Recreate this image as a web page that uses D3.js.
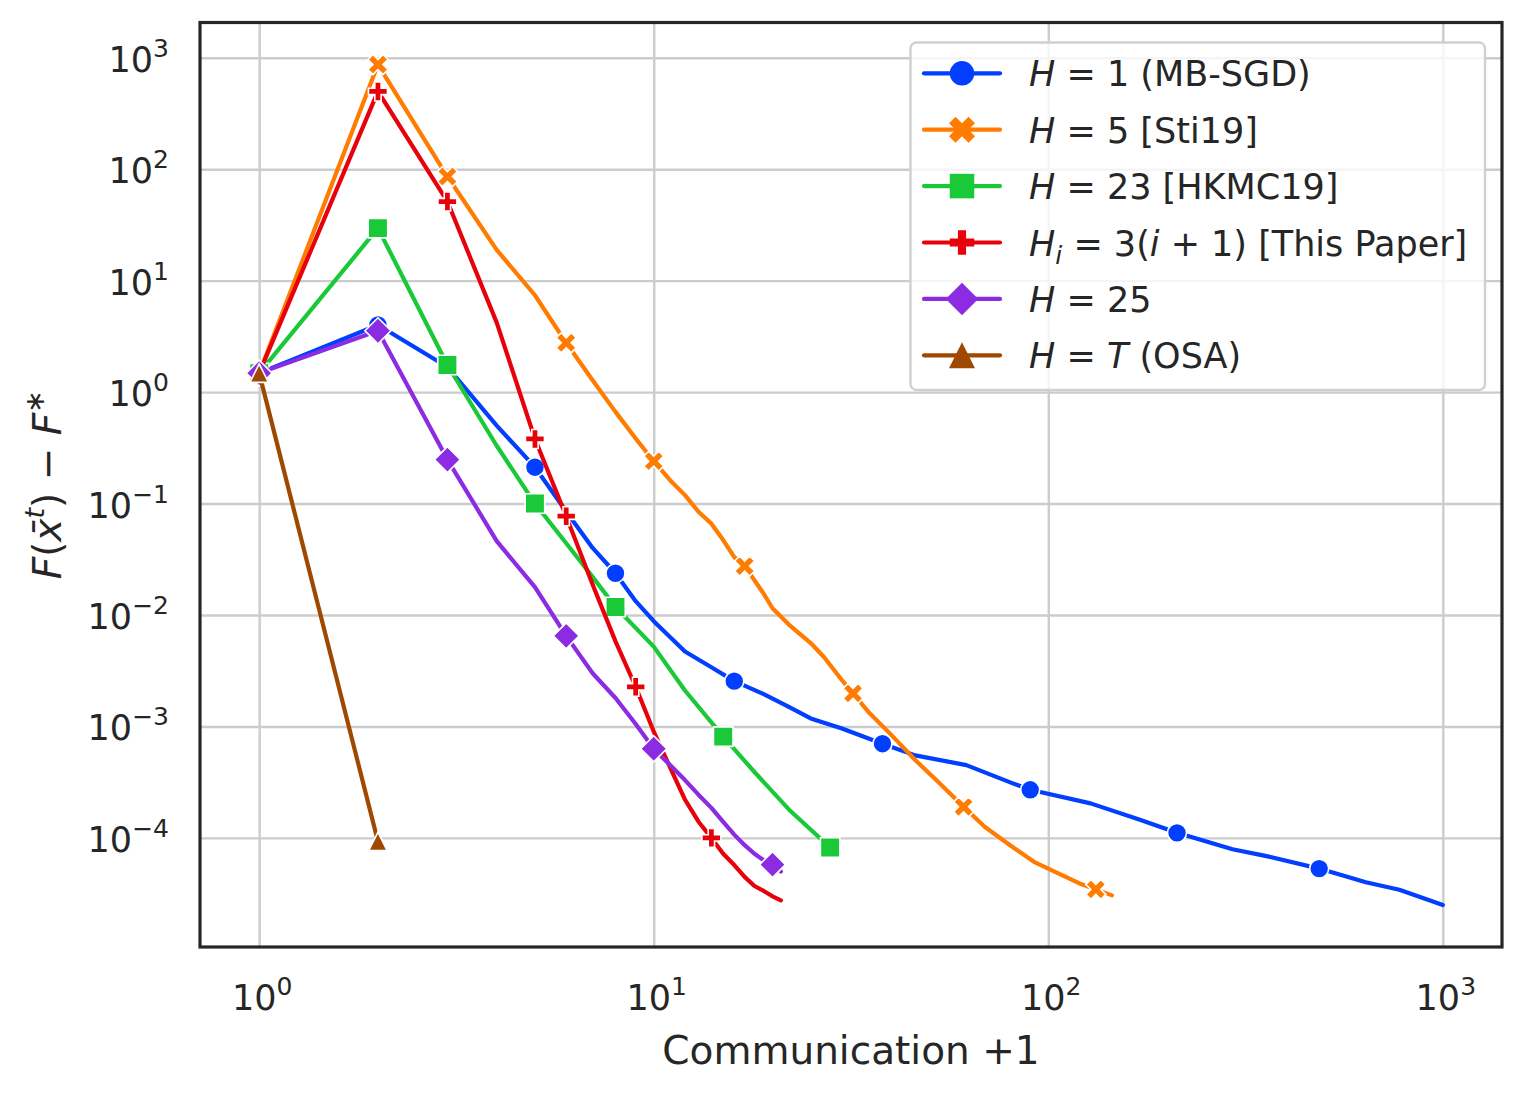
<!DOCTYPE html>
<html>
<head>
<meta charset="utf-8">
<script src="https://cdn.jsdelivr.net/npm/d3@7"></script>
<style>
  body { margin: 0; background: #fff; }
  text { font-family: "DejaVu Sans", sans-serif; fill: #262626; }
</style>
</head>
<body>
<div id="chart"></div>
<script>
// ---- data ----
const mbX = [1, 2, 3, 4, 5, 6, 7, 8, 9, 10, 12, 14, 16, 19, 22, 25, 30, 38, 46, 62, 81, 90, 128, 170, 212, 293, 355, 486, 638, 776, 1000];
const mbY = [1.48, 4.0, 1.68, 0.5, 0.212, 0.085, 0.04, 0.0237, 0.0133, 0.0088, 0.0047, 0.0034, 0.00255, 0.00195, 0.0015, 0.00118, 0.00096,
             7.0e-4, 5.5e-4, 4.5e-4, 3.1e-4, 2.7e-4, 2.04e-4, 1.46e-4, 1.11e-4, 7.9e-5, 6.9e-5, 5.3e-5, 4.0e-5, 3.42e-5, 2.5e-5];
const mbMarks = [1, 2, 5, 8, 16, 38, 90, 212, 486];

const stiX = [1, 2, 3, 4, 5, 6, 7, 8, 9, 10, 11, 12, 13, 14, 15, 16, 17, 18, 19, 20, 22, 25, 27, 30, 32, 35, 40, 46, 52, 61, 69, 80, 92, 106, 120, 132, 145];
const stiY = [1.48, 870, 86, 18.9, 7.4, 2.77, 1.28, 0.665, 0.384, 0.24, 0.162, 0.119, 0.084, 0.066, 0.047, 0.033, 0.0275, 0.0205, 0.0155, 0.0115,
              0.0082, 0.0056, 0.0042, 0.0026, 0.00198, 0.00135, 8.4e-4, 5.0e-4, 3.3e-4, 1.9e-4, 1.26e-4, 8.6e-5, 6.1e-5, 4.8e-5, 3.9e-5, 3.45e-5, 3.05e-5];
const stiMarks = [1, 2, 3, 6, 10, 17, 32, 61, 132];

const hkX = [1, 2, 3, 4, 5, 6, 7, 8, 10, 12, 15, 18, 22, 28];
const hkY = [1.48, 29.6, 1.75, 0.33, 0.1, 0.044, 0.022, 0.0118, 0.0052, 0.0021, 8.1e-4, 3.9e-4, 1.8e-4, 8.2e-5];
const hkMarks = [1, 2, 3, 5, 8, 15, 28];

const ourX = [1, 2, 3, 4, 5, 6, 7, 8, 9, 10, 11, 12, 13, 14, 15, 16, 17, 18, 19, 20, 21];
const ourY = [1.48, 499, 51.3, 4.2, 0.38, 0.077, 0.0188, 0.0058, 0.00227, 9.0e-4, 4.3e-4, 2.2e-4, 1.39e-4, 1.0e-4, 7.2e-5, 5.7e-5,
              4.47e-5, 3.7e-5, 3.34e-5, 2.99e-5, 2.75e-5];
const ourMarks = [1, 2, 3, 5, 6, 9, 14];

const h25X = [1, 2, 3, 4, 5, 6, 7, 8, 9, 10, 11, 12, 13, 14, 15, 16, 17, 18, 19, 20, 21];
const h25Y = [1.48, 3.55, 0.248, 0.046, 0.0178, 0.0065, 0.003, 1.8e-3, 1.05e-3, 6.3e-4, 4.5e-4, 3.3e-4, 2.43e-4, 1.86e-4, 1.39e-4, 1.07e-4,
              8.6e-5, 7.2e-5, 6.3e-5, 5.75e-5, 5.0e-5];
const h25Marks = [1, 2, 3, 6, 10, 20];

const osaX = [1, 2];
const osaY = [1.48, 9.3e-5];
const osaMarks = [1, 2];

const colors = ["#023eff", "#ff7c00", "#1ac938", "#e8000b", "#8b2be2", "#9f4800"];
const markerTypes = ["circle", "x", "square", "plus", "diamond", "triangle"];
const legendLabels = [
  [{t: "H", i: 1}, {t: " = 1 (MB-SGD)"}],
  [{t: "H", i: 1}, {t: " = 5 [Sti19]"}],
  [{t: "H", i: 1}, {t: " = 23 [HKMC19]"}],
  [{t: "H", i: 1}, {t: "i", i: 1, sub: 1}, {t: " = 3("}, {t: "i", i: 1}, {t: " + 1) [This Paper]"}],
  [{t: "H", i: 1}, {t: " = 25"}],
  [{t: "H", i: 1}, {t: " = "}, {t: "T", i: 1}, {t: " (OSA)"}]
];
const xTickExp = [0, 1, 2, 3];
const yTickExp = [-4, -3, -2, -1, 0, 1, 2, 3];

const series = [
  {x: mbX, y: mbY, marks: mbMarks},
  {x: stiX, y: stiY, marks: stiMarks},
  {x: hkX, y: hkY, marks: hkMarks},
  {x: ourX, y: ourY, marks: ourMarks},
  {x: h25X, y: h25Y, marks: h25Marks},
  {x: osaX, y: osaY, marks: osaMarks}
].map((s, k) => ({
  points: s.x.map((v, j) => ({x: v, y: s.y[j]})),
  marks: s.marks.map(m => ({x: m, y: s.y[s.x.indexOf(m)]})),
  color: colors[k],
  marker: markerTypes[k],
  label: legendLabels[k]
}));

// ---- layout ----
const W = 1526, H = 1095;
const pL = 200, pR = 1502, pT = 22.5, pB = 947;

// matplotlib-like 5% margins in log space
function padLog(lo, hi) {
  const a = Math.log10(lo), b = Math.log10(hi), p = (b - a) * 0.05;
  return [10 ** (a - p), 10 ** (b + p)];
}
const allX = series.flatMap(s => s.points.map(p => p.x));
const allY = series.flatMap(s => s.points.map(p => p.y));

const x = d3.scaleLog().domain(padLog(d3.min(allX), d3.max(allX))).range([pL, pR]);
const y = d3.scaleLog().domain(padLog(d3.min(allY), d3.max(allY))).range([pB, pT]);

const svg = d3.select("#chart").append("svg")
  .attr("width", W).attr("height", H)
  .style("display", "block");

// grid
svg.append("g")
  .attr("transform", `translate(0,${pB})`)
  .call(d3.axisBottom(x).tickValues(xTickExp.map(e => 10 ** e)).tickSize(-(pB - pT)).tickFormat(""))
  .call(g => g.select(".domain").remove())
  .call(g => g.selectAll("line").attr("stroke", "#cccccc").attr("stroke-width", 2.4));

svg.append("g")
  .attr("transform", `translate(${pL},0)`)
  .call(d3.axisLeft(y).tickValues(yTickExp.map(e => 10 ** e)).tickSize(-(pR - pL)).tickFormat(""))
  .call(g => g.select(".domain").remove())
  .call(g => g.selectAll("line").attr("stroke", "#cccccc").attr("stroke-width", 2.4));

// marker shapes, s = overall size in px
function markerPath(type, s) {
  const h = s / 2;
  if (type === "circle") {
    return `M${-h},0A${h},${h} 0 1,0 ${h},0A${h},${h} 0 1,0 ${-h},0Z`;
  }
  if (type === "square") return `M${-h},${-h}H${h}V${h}H${-h}Z`;
  if (type === "diamond") return `M0,${-h}L${h},0L0,${h}L${-h},0Z`;
  if (type === "triangle") return `M0,${-h}L${h},${h}L${-h},${h}Z`;
  if (type === "x") {
    const u = s / 4;
    const pts = [[-1, -2], [0, -1], [1, -2], [2, -1], [1, 0], [2, 1], [1, 2], [0, 1], [-1, 2], [-2, 1], [-1, 0], [-2, -1]];
    return "M" + pts.map(p => `${p[0] * u},${p[1] * u}`).join("L") + "Z";
  }
  if (type === "plus") {
    const u = s / 6;
    const pts = [[-1, -3], [1, -3], [1, -1], [3, -1], [3, 1], [1, 1], [1, 3], [-1, 3], [-1, 1], [-3, 1], [-3, -1], [-1, -1]];
    return "M" + pts.map(p => `${p[0] * u},${p[1] * u}`).join("L") + "Z";
  }
}
const plotSize = {circle: 19, x: 20, square: 19.5, plus: 19, diamond: 26, triangle: 18.5};
const legendSize = {circle: 24.5, x: 26, square: 24.5, plus: 24.5, diamond: 32.5, triangle: 26};

const line = d3.line().x(d => x(d.x)).y(d => y(d.y));

const plot = svg.append("g");
series.forEach(s => {
  const g = plot.append("g");
  g.append("path")
    .datum(s.points)
    .attr("d", line)
    .attr("fill", "none")
    .attr("stroke", s.color)
    .attr("stroke-width", 4.2)
    .attr("stroke-linejoin", "round")
    .attr("stroke-linecap", "round");
  g.selectAll("path.mk")
    .data(s.marks)
    .enter()
    .append("path")
    .attr("class", "mk")
    .attr("transform", d => `translate(${x(d.x)},${y(d.y)})`)
    .attr("d", markerPath(s.marker, plotSize[s.marker]))
    .attr("fill", s.color)
    .attr("stroke", "#fff")
    .attr("stroke-width", 1.6);
});

// frame
svg.append("rect")
  .attr("x", pL).attr("y", pT)
  .attr("width", pR - pL).attr("height", pB - pT)
  .attr("fill", "none")
  .attr("stroke", "#262626")
  .attr("stroke-width", 3.2);

// tick labels
const tickFont = 35;
const supFont = 25;
function powerLabel(sel, e) {
  sel.append("tspan").text("10");
  sel.append("tspan")
    .style("font-size", supFont + "px")
    .attr("dy", -15)
    .text(e < 0 ? "\u2212" + Math.abs(e) : String(e));
}
xTickExp.forEach(e => {
  const t = svg.append("text")
    .attr("x", x(10 ** e) + 3)
    .attr("y", 1010)
    .attr("text-anchor", "middle")
    .style("font-size", tickFont + "px");
  powerLabel(t, e);
});
yTickExp.forEach(e => {
  const t = svg.append("text")
    .attr("x", 169)
    .attr("y", y(10 ** e) + 14)
    .attr("text-anchor", "end")
    .style("font-size", tickFont + "px");
  powerLabel(t, e);
});

// axis labels
svg.append("text")
  .attr("x", (pL + pR) / 2)
  .attr("y", 1064)
  .attr("text-anchor", "middle")
  .style("font-size", "39px")
  .text("Communication +1");

const yl = svg.append("text")
  .attr("transform", `translate(61,${(pT + pB) / 2}) rotate(-90)`)
  .attr("text-anchor", "middle")
  .style("font-size", "39px");
yl.append("tspan").style("font-style", "italic").text("F");
yl.append("tspan").text("(");
yl.append("tspan").style("font-style", "italic").text("x\u0304");
yl.append("tspan").style("font-style", "italic").style("font-size", "27px").attr("dy", -17).text("t");
yl.append("tspan").attr("dy", 17).text(")");
yl.append("tspan").text(" \u2212 ");
yl.append("tspan").style("font-style", "italic").text("F");
yl.append("tspan").style("font-size", "27px").attr("dy", -17).text("\u2217");

// legend
const lg = svg.append("g");
lg.append("rect")
  .attr("x", 910.5).attr("y", 42.5)
  .attr("width", 574.5).attr("height", 347.5)
  .attr("rx", 6)
  .attr("fill", "#fff").attr("fill-opacity", 0.8)
  .attr("stroke", "#d0d0d0").attr("stroke-width", 2.4);

series.forEach((s, k) => {
  const cy = 73.3 + k * 56.4;
  lg.append("line")
    .attr("x1", 924).attr("x2", 1000)
    .attr("y1", cy).attr("y2", cy)
    .attr("stroke", s.color).attr("stroke-width", 4.2)
    .attr("stroke-linecap", "round");
  lg.append("path")
    .attr("transform", `translate(962,${cy})`)
    .attr("d", markerPath(s.marker, legendSize[s.marker]))
    .attr("fill", s.color);
  const t = lg.append("text")
    .attr("x", 1029)
    .attr("y", cy + 13)
    .style("font-size", "35px");
  let prevSub = false;
  s.label.forEach(seg => {
    const sp = t.append("tspan").text(seg.t);
    if (seg.i) sp.style("font-style", "italic");
    if (seg.sub) sp.style("font-size", "25px").attr("dy", 8);
    else if (prevSub) sp.attr("dy", -8);
    prevSub = !!seg.sub;
  });
});
</script>
</body>
</html>
